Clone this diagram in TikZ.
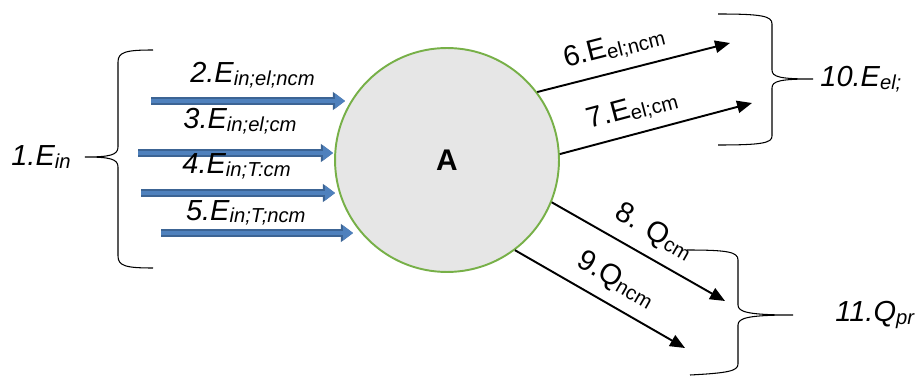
\documentclass[tikz,border=0pt]{standalone}
\usepackage{fontspec}
\setmainfont{Liberation Sans}
\usetikzlibrary{positioning,arrows.meta}
\definecolor{flowblue}{RGB}{79,129,189}
\definecolor{flowdark}{RGB}{60,100,148}
\definecolor{ringgreen}{RGB}{119,176,72}
\definecolor{discgray}{RGB}{230,230,230}
\newcommand{\lblfont}{\fontsize{16.5}{19}\selectfont}
\newcommand{\sbs}[1]{\raisebox{-1.5pt}{\fontsize{11.5}{13}\selectfont #1}}

\begin{document}
\begin{tikzpicture}[x=0.02cm, y=-0.02cm,
  every node/.style={font=\lblfont, inner sep=0pt},
  inflow/.style={draw=flowblue, line width=2.8pt, shorten <=0.6pt, shorten >=1.1pt,
    -{Triangle[length=5.6pt,width=8pt]},
    preaction={draw=flowdark, line width=4pt, -{Triangle[length=7pt,width=10pt]}}},
  outflow/.style={draw=black, line width=1.1pt, -{Triangle[length=8.5pt,width=7pt]}},
  bracket/.style={draw=black, line width=0.6pt},
  lbl/.style={font=\lblfont\itshape}]
  \useasboundingbox (0,0) rectangle (919,378);

  % central body
  \node[circle, draw=ringgreen, fill=discgray, line width=1.1pt, minimum size=4.48cm,
        font=\fontsize{17}{20}\selectfont\bfseries] (A) at (447,160) {A};

  % incoming energy
  \coordinate (e2s) at (150,101); \coordinate (e2e) at (347,101);
  \coordinate (e3s) at (137,153); \coordinate (e3e) at (335,153);
  \coordinate (e4s) at (140,193); \coordinate (e4e) at (337,193);
  \coordinate (e5s) at (160,233); \coordinate (e5e) at (355,233);
  \draw[inflow] (e2s) -- node[lbl, above=6pt, pos=0.52] {2.E\sbs{in;el;ncm}} (e2e);
  \draw[inflow] (e3s) -- node[lbl, above=9.5pt, pos=0.52] {3.E\sbs{in;el;cm}} (e3e);
  \draw[inflow] (e4s) -- node[lbl, above=6.5pt, pos=0.49] {4.E\sbs{in;T:cm}} (e4e);
  \draw[inflow] (e5s) -- node[lbl, above=3pt, pos=0.44] {5.E\sbs{in;T;ncm}} (e5e);

  % outgoing flows
  \coordinate (o6) at (730,43);
  \coordinate (o7) at (752,103);
  \coordinate (o8) at (725,301);
  \coordinate (o9) at (685,348);
  \draw[outflow] (A.37) -- node[sloped, above=6pt, pos=0.43] {6.E\sbs{el;ncm}} (o6);
  \draw[outflow] (A.3.5) -- node[sloped, above=6pt, pos=0.41] {7.E\sbs{el;cm}} (o7);
  \draw[outflow] (A.-22) -- node[sloped, above=6pt, pos=0.52] {8. Q\sbs{cm}} (o8);
  \draw[outflow] (A.-53.7) -- node[sloped, above=6pt, pos=0.52] {9.Q\sbs{ncm}} (o9);

  % braces
  \coordinate (t1) at (85,157);
  \coordinate (t10) at (813,79);
  \coordinate (t11) at (793,315);
  \draw[bracket] (153,50) .. controls (126,50) and (118,52) .. (118,62) -- (118,147)
    .. controls (118,155) and (110,157) .. (t1)
    .. controls (110,157) and (118,159) .. (118,167) -- (118,256)
    .. controls (118,266) and (126,268) .. (153,268);
  \draw[bracket] (718,14) .. controls (762,14) and (772,16) .. (772,24) -- (772,70)
    .. controls (772,77) and (780,79) .. (t10)
    .. controls (780,79) and (772,81) .. (772,88) -- (772,136)
    .. controls (772,143) and (762,145) .. (718,145);
  \draw[bracket] (687,250) .. controls (728,250) and (738,252) .. (738,260) -- (738,305)
    .. controls (738,312) and (748,315) .. (t11)
    .. controls (748,315) and (738,318) .. (738,325) -- (738,364)
    .. controls (738,371) and (728,373) .. (690,375);
  \node[lbl, left=8pt of t1] (sumin) {1.E\sbs{in}};
  \node[lbl, right=4pt of t10] (sumel) {10.E\sbs{el;}};
  \node[lbl, anchor=west] (sumq) at (835,315) {11.Q\sbs{pr}};
\end{tikzpicture}
\end{document}
